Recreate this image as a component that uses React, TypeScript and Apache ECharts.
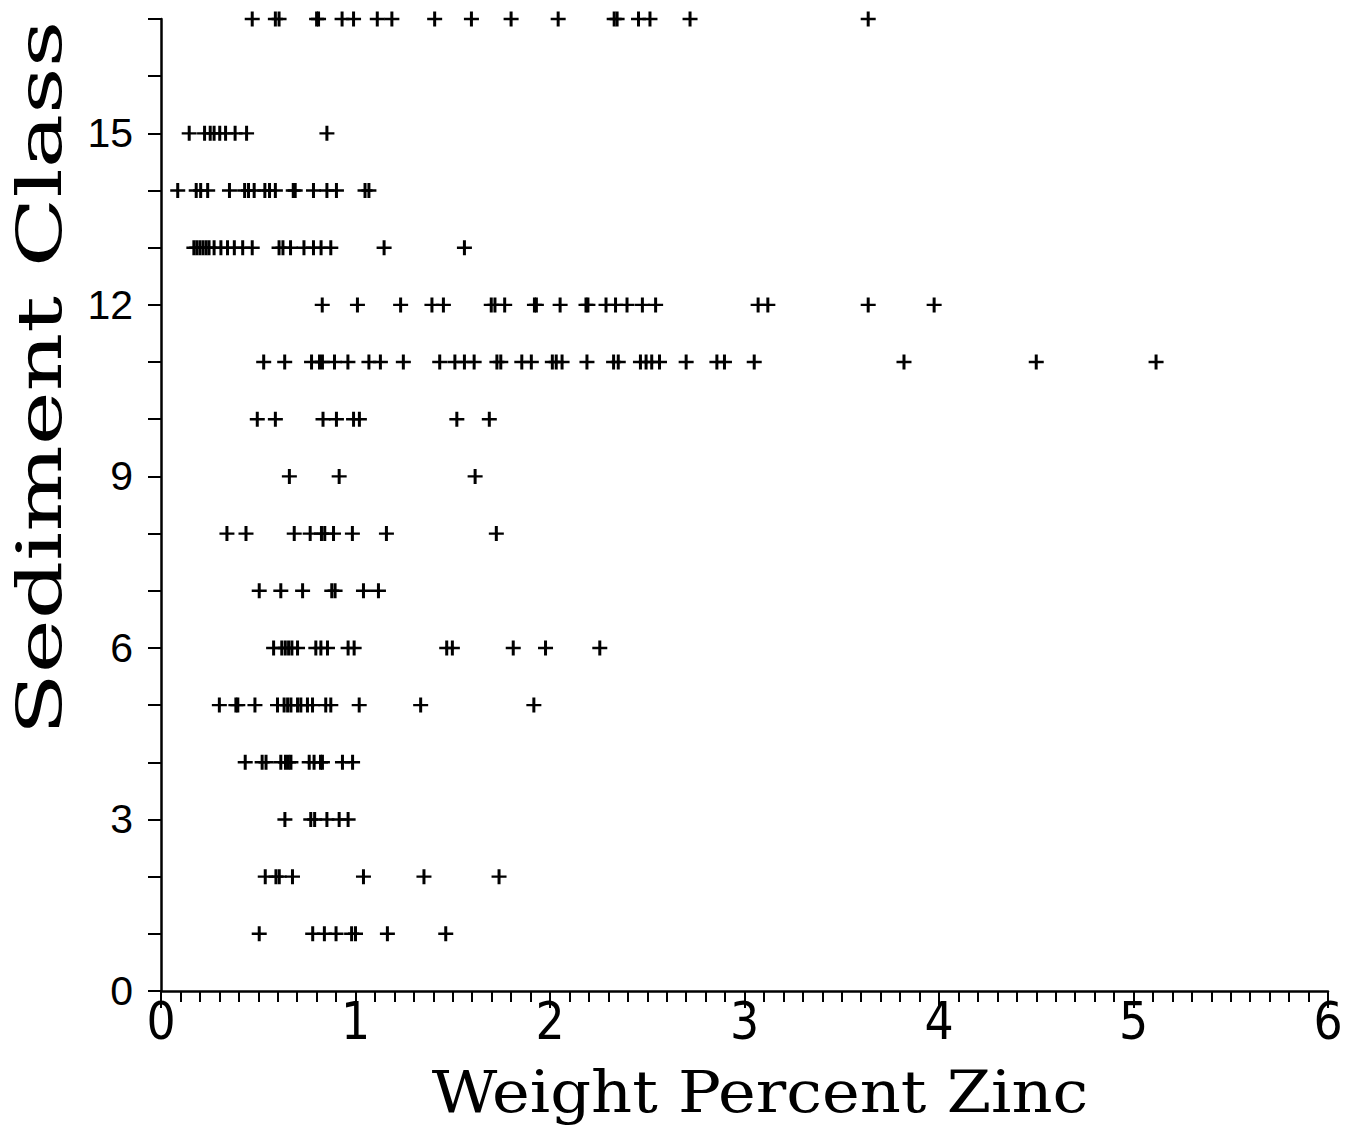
import React, { useEffect, useRef } from "react";
import * as echarts from "echarts";

// Weight percent zinc values for each sediment class
const class1 = [0.505, 0.78, 0.84, 0.9, 0.98, 1.0, 1.164, 1.464];
const class2 = [0.536, 0.591, 0.608, 0.676, 1.041, 1.352, 1.738];
const class3 = [0.637, 0.77, 0.79, 0.853, 0.916, 0.962];
const class4 = [0.433, 0.52, 0.54, 0.616, 0.64, 0.655, 0.668, 0.762, 0.787, 0.82, 0.83, 0.933, 0.985];
const class5 = [0.3, 0.385, 0.395, 0.483, 0.599, 0.633, 0.651, 0.668, 0.702, 0.719, 0.753, 0.779, 0.847, 0.873, 1.019, 1.335, 1.917];
const class6 = [0.579, 0.621, 0.639, 0.656, 0.673, 0.702, 0.796, 0.822, 0.856, 0.962, 0.993, 1.469, 1.498, 1.811, 1.977, 2.256];
const class7 = [0.505, 0.616, 0.728, 0.878, 0.895, 1.041, 1.118];
const class8 = [0.339, 0.437, 0.685, 0.767, 0.825, 0.842, 0.887, 0.984, 1.159, 1.724];
const class9 = [0.66, 0.916, 1.615];
const class10 = [0.495, 0.588, 0.833, 0.902, 0.99, 1.02, 1.521, 1.688];
const class11 = [0.528, 0.636, 0.774, 0.815, 0.83, 0.892, 0.961, 1.069, 1.128, 1.246, 1.433, 1.511, 1.56, 1.61, 1.727, 1.747, 1.855, 1.904, 2.012, 2.032, 2.062, 2.19, 2.327, 2.351, 2.465, 2.494, 2.523, 2.563, 2.7, 2.858, 2.897, 3.05, 3.82, 4.5, 5.116];
const class12 = [0.829, 1.01, 1.232, 1.393, 1.452, 1.698, 1.717, 1.767, 1.92, 1.93, 2.052, 2.185, 2.195, 2.288, 2.337, 2.396, 2.475, 2.543, 3.07, 3.12, 3.636, 3.975];
const class13 = [0.169, 0.184, 0.2, 0.216, 0.232, 0.247, 0.273, 0.308, 0.342, 0.377, 0.42, 0.469, 0.607, 0.627, 0.666, 0.735, 0.784, 0.823, 0.873, 1.147, 1.56];
const class14 = [0.086, 0.181, 0.204, 0.24, 0.352, 0.43, 0.45, 0.479, 0.534, 0.558, 0.588, 0.68, 0.69, 0.784, 0.853, 0.902, 1.049, 1.069];
const class15 = [0.145, 0.224, 0.253, 0.273, 0.302, 0.332, 0.381, 0.44, 0.853];
const class17 = [0.469, 0.588, 0.607, 0.8, 0.81, 0.931, 0.99, 1.112, 1.187, 1.407, 1.596, 1.8, 2.042, 2.33, 2.345, 2.455, 2.514, 2.72, 3.636];

const classRows: [number, number[]][] = [
  [1, class1], [2, class2], [3, class3], [4, class4], [5, class5], [6, class6],
  [7, class7], [8, class8], [9, class9], [10, class10], [11, class11], [12, class12],
  [13, class13], [14, class14], [15, class15], [17, class17],
];

const xTickLabels = ["0", "1", "2", "3", "4", "5", "6"];
const yLabelValues = [0, 3, 6, 9, 12, 15];

const xTitle = "Weight Percent Zinc";
const yTitle = "Sediment Class";

const PLUS = "path://M6,0h3v6.3h6v2.4h-6v6.3h-3v-6.3h-6v-2.4h6z";

export default function App() {
  const ref = useRef<HTMLDivElement>(null);
  useEffect(() => {
    if (!ref.current) return;
    const chart = echarts.init(ref.current, undefined, { renderer: "svg" });
    const data: number[][] = [];
    classRows.forEach(([c, xs]) => xs.forEach((x) => data.push([x, c])));
    chart.setOption({
      animation: false,
      backgroundColor: "#ffffff",
      grid: { left: 161, right: 18, top: 19, bottom: 134, containLabel: false },
      xAxis: {
        type: "value",
        min: 0,
        max: 6,
        interval: 1,
        axisLine: { show: true, onZero: false, lineStyle: { color: "#000", width: 2.5 } },
        axisTick: { show: true, length: 17, lineStyle: { color: "#000", width: 2 } },
        minorTick: { show: true, splitNumber: 10, length: 11, lineStyle: { color: "#000", width: 2 } },
        splitLine: { show: false },
        minorSplitLine: { show: false },
        axisLabel: {
          margin: 5,
          color: "#000",
          fontSize: 51,
          fontFamily: "'Liberation Sans Narrow', 'DejaVu Sans Condensed', 'Liberation Sans', sans-serif",
          formatter: (v: number) => xTickLabels[Math.round(v)] ?? "",
        },
      },
      yAxis: {
        type: "value",
        min: 0,
        max: 17,
        interval: 1,
        axisLine: { show: true, onZero: false, lineStyle: { color: "#000", width: 2.5 } },
        axisTick: { show: true, length: 13, lineStyle: { color: "#000", width: 2 } },
        splitLine: { show: false },
        axisLabel: {
          margin: 28,
          color: "#000",
          fontSize: 41,
          fontFamily: "'Liberation Sans', Arial, sans-serif",
          formatter: (v: number) => (yLabelValues.includes(Math.round(v)) ? String(Math.round(v)) : ""),
        },
      },
      graphic: [
        {
          type: "text",
          x: 760,
          y: 1092,
          scaleX: 1.1,
          style: {
            text: xTitle,
            fill: "#000",
            font: "58px 'DejaVu Serif', 'Liberation Serif', serif",
            align: "center",
            verticalAlign: "middle",
          },
        },
        {
          type: "text",
          x: 40,
          y: 378,
          rotation: Math.PI / 2,
          scaleX: 1.47,
          style: {
            text: yTitle,
            fill: "#000",
            font: "62px 'DejaVu Serif', 'Liberation Serif', serif",
            align: "center",
            verticalAlign: "middle",
          },
        },
      ],
      series: [
        {
          type: "scatter",
          data,
          symbol: PLUS,
          symbolSize: 15,
          itemStyle: { color: "#000", opacity: 1 },
          emphasis: { disabled: true },
        },
      ],
    });
    return () => chart.dispose();
  }, []);
  return (
    <div
      ref={ref}
      style={{ position: "absolute", left: 0, top: 0, width: 1346, height: 1125 }}
    />
  );
}
